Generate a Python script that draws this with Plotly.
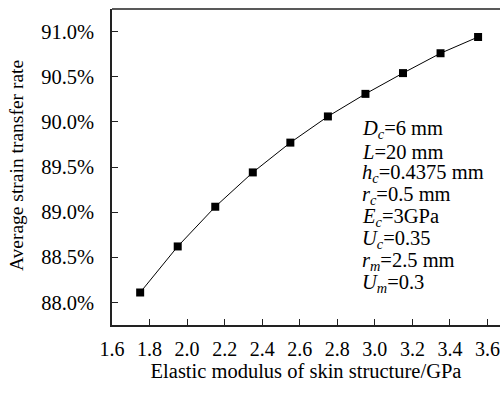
import plotly.graph_objects as go

modulus = [1.75, 1.95, 2.15, 2.35, 2.55, 2.75, 2.95, 3.15, 3.35, 3.55]
rate = [88.11, 88.62, 89.06, 89.44, 89.77, 90.06, 90.31, 90.54, 90.76, 90.94]
x_ticks = [1.6, 1.8, 2.0, 2.2, 2.4, 2.6, 2.8, 3.0, 3.2, 3.4, 3.6]
y_ticks = [88.0, 88.5, 89.0, 89.5, 90.0, 90.5, 91.0]
y_labels = ["88.0%", "88.5%", "89.0%", "89.5%", "90.0%", "90.5%", "91.0%"]
x_title = "Elastic modulus of skin structure/GPa"
y_title = "Average strain transfer rate"
param_lines = [
    "<i>D<sub>c</sub></i>=6 mm",
    "<i>L</i>=20 mm",
    "<i>h<sub>c</sub></i>=0.4375 mm",
    "<i>r<sub>c</sub></i>=0.5 mm",
    "<i>E<sub>c</sub></i>=3GPa",
    "<i>U<sub>c</sub></i>=0.35",
    "<i>r<sub>m</sub></i>=2.5 mm",
    "<i>U<sub>m</sub></i>=0.3",
]

FONT = "Liberation Serif"
xfont = dict(family=FONT, size=20, color="black")
yfont = dict(family=FONT, size=20.5, color="black")

fig = go.Figure()
fig.add_trace(go.Scatter(
    x=modulus, y=rate, mode="lines+markers",
    line=dict(color="black", width=1),
    marker=dict(symbol="square", size=8, color="black"),
    showlegend=False,
))

top_px, bot_px = 9.5, 325.0
for i, t in enumerate(param_lines):
    py = 130 + 22 * i
    fig.add_annotation(
        x=0.64, xref="paper", xanchor="left",
        y=(bot_px - py) / (bot_px - top_px), yref="paper", yanchor="middle",
        text=t, showarrow=False,
        font=dict(family=FONT, size=20.5, color="black"),
    )

# y-axis title as rotated annotation
fig.add_annotation(
    x=(17 - 112.5) / 387.5, xref="paper", xanchor="center",
    y=(bot_px - 166) / (bot_px - top_px), yref="paper", yanchor="middle",
    text=y_title, textangle=-90, showarrow=False,
    font=dict(family=FONT, size=19.5, color="black"),
)

fig.add_shape(type="line", xref="paper", yref="paper", x0=0, x1=1, y0=1, y1=1,
              line=dict(color="#222", width=1.5))

fig.update_layout(
    width=500, height=394,
    margin=dict(l=112, r=0, t=9, b=69),
    plot_bgcolor="white", paper_bgcolor="white",
    font=xfont,
    xaxis=dict(
        range=[1.6, 3.6667], tickvals=x_ticks,
        ticktext=[f"{v:.1f}" for v in x_ticks],
        tickfont=xfont, ticklabelstandoff=5,
        ticks="inside", ticklen=6, tickcolor="#222", tickwidth=1.2,
        showline=True, linecolor="#222", linewidth=1.5,
        showgrid=False, zeroline=False,
        title=dict(text=x_title, standoff=3,
                   font=dict(family=FONT, size=20.5, color="black")),
    ),
    yaxis=dict(
        range=[87.75, 91.25], tickvals=y_ticks, ticktext=y_labels,
        tickfont=yfont, ticklabelstandoff=12,
        ticks="inside", ticklen=6, tickcolor="#222", tickwidth=1.2,
        showline=True, linecolor="#222", linewidth=1.5,
        showgrid=False, zeroline=False,
    ),
)

fig.write_html("out.html")
